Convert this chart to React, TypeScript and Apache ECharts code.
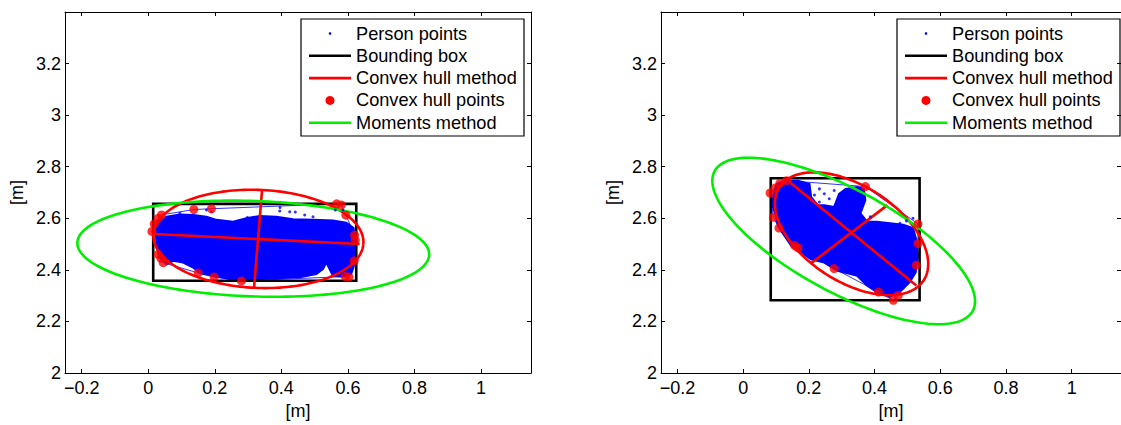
import React, { useEffect, useRef } from "react";
import * as echarts from "echarts";

// ---------- axes ----------
const xRange = [-0.25, 1.15];
const yRange = [2, 3.4];
const xTicks = [-0.2, 0, 0.2, 0.4, 0.6, 0.8, 1];
const yTicks = [2, 2.2, 2.4, 2.6, 2.8, 3, 3.2];
const axisName = "[m]";
const legendLabels = [
  "Person points",
  "Bounding box",
  "Convex hull method",
  "Convex hull points",
  "Moments method",
];

// ---------- left subplot ----------
const leftBlob = [
  [0.023, 2.549], [0.03, 2.587], [0.055, 2.606], [0.095, 2.615], [0.135, 2.613],
  [0.175, 2.606], [0.205, 2.594], [0.255, 2.587], [0.295, 2.6], [0.335, 2.609],
  [0.385, 2.606], [0.435, 2.596], [0.495, 2.594], [0.555, 2.591], [0.595, 2.583],
  [0.617, 2.562], [0.623, 2.504], [0.621, 2.428], [0.61, 2.384], [0.585, 2.374],
  [0.555, 2.377], [0.535, 2.428], [0.525, 2.403], [0.505, 2.384], [0.455, 2.371],
  [0.385, 2.367], [0.335, 2.365], [0.28, 2.358], [0.235, 2.367], [0.195, 2.377],
  [0.155, 2.388], [0.135, 2.409], [0.105, 2.428], [0.075, 2.435], [0.055, 2.422],
  [0.035, 2.447], [0.025, 2.492],
];
const leftDots = [
  [0.08, 2.606], [0.095, 2.619], [0.175, 2.632], [0.19, 2.625], [0.298, 2.603],
  [0.395, 2.628], [0.396, 2.642], [0.425, 2.625], [0.442, 2.624], [0.47, 2.613],
  [0.495, 2.606], [0.555, 2.581], [0.562, 2.632], [0.585, 2.632],
];
const leftHull = [
  [0.011, 2.549], [0.018, 2.578], [0.03, 2.6], [0.04, 2.613], [0.137, 2.634],
  [0.19, 2.637], [0.566, 2.656], [0.58, 2.652], [0.594, 2.612], [0.62, 2.535],
  [0.622, 2.515], [0.619, 2.435], [0.603, 2.372], [0.592, 2.374], [0.28, 2.357],
  [0.198, 2.372], [0.15, 2.388], [0.045, 2.428], [0.038, 2.445], [0.03, 2.46],
];
const leftBox = [0.015, 2.358, 0.625, 2.656]; // xmin, ymin, xmax, ymax
const leftHullEllipse = [0.331, 2.52, 0.316, 0.19, -3.6]; // cx, cy, a, b, angle(deg)
const leftHullAxes = [
  [0.02, 2.539, 0.635, 2.5],
  [0.342, 2.708, 0.318, 2.333],
];
const leftMomentsEllipse = [0.3156, 2.482, 0.529, 0.185, -2.7];

// ---------- right subplot ----------
const rightBlob = [
  [0.092, 2.695], [0.102, 2.733], [0.127, 2.746], [0.167, 2.746], [0.202, 2.733],
  [0.207, 2.682], [0.227, 2.651], [0.247, 2.651], [0.277, 2.644], [0.292, 2.695],
  [0.312, 2.714], [0.347, 2.721], [0.367, 2.714], [0.372, 2.67], [0.357, 2.619],
  [0.377, 2.587], [0.407, 2.587], [0.447, 2.581], [0.487, 2.575], [0.517, 2.562],
  [0.527, 2.517], [0.532, 2.454], [0.525, 2.39], [0.507, 2.352], [0.477, 2.314],
  [0.447, 2.295], [0.407, 2.314], [0.377, 2.339], [0.347, 2.377], [0.327, 2.384],
  [0.287, 2.396], [0.247, 2.428], [0.207, 2.441], [0.177, 2.466], [0.147, 2.492],
  [0.127, 2.53], [0.107, 2.568], [0.097, 2.619], [0.087, 2.657],
];
const rightDots = [
  [0.232, 2.714], [0.247, 2.695], [0.262, 2.676], [0.277, 2.708], [0.232, 2.663],
  [0.217, 2.69], [0.387, 2.606], [0.477, 2.581], [0.517, 2.6], [0.497, 2.59],
];
const rightHull = [
  [0.082, 2.698], [0.097, 2.717], [0.112, 2.736], [0.132, 2.746], [0.372, 2.723],
  [0.532, 2.578], [0.532, 2.502], [0.527, 2.418], [0.472, 2.301], [0.457, 2.282],
  [0.412, 2.314], [0.277, 2.405], [0.167, 2.485], [0.157, 2.494], [0.109, 2.562],
  [0.092, 2.604],
];
const rightBox = [0.084, 2.282, 0.537, 2.755];
const rightHullEllipse = [0.33, 2.54, 0.288, 0.168, -46.2];
const rightHullAxes = [
  [0.142, 2.74, 0.527, 2.339],
  [0.207, 2.426, 0.439, 2.651],
];
const rightMomentsEllipse = [0.306, 2.512, 0.479, 0.186, -36.7];

// ---------- styling ----------
const FONT = "'Liberation Sans', Arial, Helvetica, sans-serif";
const BLUE = "#0000ff";
const RED = "#ff0000";
const GREEN = "#00ee00";
const BLACK = "#000000";
const TICK_FONT = 18;
const LEGEND_FONT = 18.2;

const fmt = (v: number) => {
  if (Math.abs(v) < 1e-9) return "0";
  const s = String(parseFloat(v.toFixed(2)));
  return s.replace("-", "\u2212");
};

function xAxisDef(gridIndex: number, position: "bottom" | "top") {
  const bottom = position === "bottom";
  return {
    type: "value",
    gridIndex,
    position,
    min: xRange[0],
    max: xRange[1],
    axisLine: { show: true, onZero: false, lineStyle: { color: BLACK, width: 1 } },
    axisTick: { show: true, inside: true, length: 4, customValues: xTicks, lineStyle: { color: BLACK, width: 1 } },
    axisLabel: bottom
      ? { show: true, customValues: xTicks, formatter: fmt, color: BLACK, fontSize: TICK_FONT, fontFamily: FONT, margin: 6 }
      : { show: false },
    splitLine: { show: false },
    name: bottom ? axisName : "",
    nameLocation: "middle",
    nameGap: 29,
    nameTextStyle: { color: BLACK, fontSize: TICK_FONT, fontFamily: FONT },
  };
}

function yAxisDef(gridIndex: number, position: "left" | "right") {
  const left = position === "left";
  return {
    type: "value",
    gridIndex,
    position,
    min: yRange[0],
    max: yRange[1],
    axisLine: { show: true, onZero: false, lineStyle: { color: BLACK, width: 1 } },
    axisTick: { show: true, inside: true, length: 4, customValues: yTicks, lineStyle: { color: BLACK, width: 1 } },
    axisLabel: left
      ? { show: true, customValues: yTicks, formatter: fmt, color: BLACK, fontSize: TICK_FONT, fontFamily: FONT, margin: 4 }
      : { show: false },
    splitLine: { show: false },
    name: left ? axisName : "",
    nameLocation: "middle",
    nameRotate: 90,
    nameGap: 39,
    nameTextStyle: { color: BLACK, fontSize: TICK_FONT, fontFamily: FONT },
  };
}

function polygonSeries(name: string, pts: number[][], axis: number, style: any) {
  return {
    type: "custom",
    name,
    xAxisIndex: axis,
    yAxisIndex: axis,
    silent: true,
    data: pts,
    renderItem: (params: any, api: any) => {
      if (params.dataIndex !== 0) return null;
      return {
        type: "polygon",
        shape: { points: pts.map((p) => api.coord(p)) },
        style,
      };
    },
  };
}

function boxSeries(name: string, box: number[], axis: number) {
  return {
    type: "custom",
    name,
    xAxisIndex: axis,
    yAxisIndex: axis,
    silent: true,
    data: [box],
    renderItem: (_p: any, api: any) => {
      const a = api.coord([api.value(0), api.value(3)]);
      const b = api.coord([api.value(2), api.value(1)]);
      return {
        type: "rect",
        shape: { x: a[0], y: a[1], width: b[0] - a[0], height: b[1] - a[1] },
        style: { fill: "none", stroke: BLACK, lineWidth: 2.6 },
      };
    },
  };
}

function ellipseSeries(name: string, e: number[], axis: number, color: string) {
  return {
    type: "custom",
    name,
    xAxisIndex: axis,
    yAxisIndex: axis,
    silent: true,
    data: [e],
    renderItem: (_p: any, api: any) => {
      const cx = api.value(0);
      const cy = api.value(1);
      const a = api.value(2);
      const b = api.value(3);
      const th = (api.value(4) * Math.PI) / 180;
      const pts: number[][] = [];
      const N = 180;
      for (let k = 0; k <= N; k++) {
        const t = (2 * Math.PI * k) / N;
        const x = cx + a * Math.cos(t) * Math.cos(th) - b * Math.sin(t) * Math.sin(th);
        const y = cy + a * Math.cos(t) * Math.sin(th) + b * Math.sin(t) * Math.cos(th);
        pts.push(api.coord([x, y]));
      }
      return {
        type: "polyline",
        shape: { points: pts },
        style: { fill: "none", stroke: color, lineWidth: 2.6 },
      };
    },
  };
}

function segmentSeries(name: string, segs: number[][], axis: number, color: string) {
  return {
    type: "custom",
    name,
    xAxisIndex: axis,
    yAxisIndex: axis,
    silent: true,
    data: segs,
    renderItem: (_p: any, api: any) => {
      const a = api.coord([api.value(0), api.value(1)]);
      const b = api.coord([api.value(2), api.value(3)]);
      return {
        type: "line",
        shape: { x1: a[0], y1: a[1], x2: b[0], y2: b[1] },
        style: { stroke: color, lineWidth: 2.6 },
      };
    },
  };
}

function subplotSeries(
  axis: number,
  blob: number[][],
  dots: number[][],
  hull: number[][],
  box: number[],
  hullEllipse: number[],
  hullAxes: number[][],
  moments: number[],
) {
  return [
    polygonSeries(legendLabels[0], blob, axis, { fill: BLUE, stroke: BLUE, lineWidth: 2 }),
    {
      type: "scatter",
      name: legendLabels[0],
      xAxisIndex: axis,
      yAxisIndex: axis,
      silent: true,
      symbolSize: 3,
      itemStyle: { color: BLUE },
      data: dots,
    },
    polygonSeries("hull", hull, axis, { fill: "none", stroke: BLUE, lineWidth: 0.8 }),
    boxSeries(legendLabels[1], box, axis),
    ellipseSeries(legendLabels[2], hullEllipse, axis, RED),
    segmentSeries(legendLabels[2], hullAxes, axis, RED),
    {
      type: "scatter",
      name: legendLabels[3],
      xAxisIndex: axis,
      yAxisIndex: axis,
      silent: true,
      symbolSize: 9,
      itemStyle: { color: RED },
      data: hull,
    },
    ellipseSeries(legendLabels[4], moments, axis, GREEN),
  ];
}

const legendKinds = [
  { kind: "dot", color: BLUE },
  { kind: "line", color: BLACK },
  { kind: "line", color: RED },
  { kind: "marker", color: RED },
  { kind: "line", color: GREEN },
];

function legendGroup(left: number) {
  const top = 19;
  const children: any[] = [
    {
      type: "rect",
      shape: { x: left, y: top, width: 223, height: 117 },
      style: { fill: "#ffffff", stroke: BLACK, lineWidth: 1.2 },
    },
  ];
  legendLabels.forEach((label, i) => {
    const y = top + 14.5 + 22.3 * i;
    const k = legendKinds[i];
    if (k.kind === "line") {
      children.push({
        type: "line",
        shape: { x1: left + 8, y1: y, x2: left + 50, y2: y },
        style: { stroke: k.color, lineWidth: 2.6 },
      });
    } else {
      children.push({
        type: "circle",
        shape: { cx: left + 29, cy: y, r: k.kind === "dot" ? 1.3 : 4.5 },
        style: { fill: k.color },
      });
    }
    children.push({
      type: "text",
      x: left + 55,
      y,
      style: {
        text: label,
        fill: BLACK,
        fontSize: LEGEND_FONT,
        fontFamily: FONT,
        verticalAlign: "middle",
        align: "left",
      },
    });
  });
  return { type: "group", z: 100, children };
}

export default function App() {
  const ref = useRef<HTMLDivElement>(null);
  useEffect(() => {
    document.body.style.margin = "0";
    document.body.style.overflow = "hidden";
    if (!ref.current) return;
    const chart = echarts.init(ref.current, null, { renderer: "svg" });
    chart.setOption({
      animation: false,
      backgroundColor: "#ffffff",
      grid: [
        { left: 65, top: 12, width: 466, height: 367 },
        { left: 661, top: 12, width: 466, height: 367 },
      ],
      xAxis: [xAxisDef(0, "bottom"), xAxisDef(0, "top"), xAxisDef(1, "bottom"), xAxisDef(1, "top")],
      yAxis: [yAxisDef(0, "left"), yAxisDef(0, "right"), yAxisDef(1, "left"), yAxisDef(1, "right")],
      series: [
        ...subplotSeries(0, leftBlob, leftDots, leftHull, leftBox, leftHullEllipse, leftHullAxes, leftMomentsEllipse),
        ...subplotSeries(2, rightBlob, rightDots, rightHull, rightBox, rightHullEllipse, rightHullAxes, rightMomentsEllipse),
      ],
      graphic: [legendGroup(301), legendGroup(897)],
    });
    return () => chart.dispose();
  }, []);
  return <div ref={ref} style={{ width: 1121, height: 425 }} />;
}
